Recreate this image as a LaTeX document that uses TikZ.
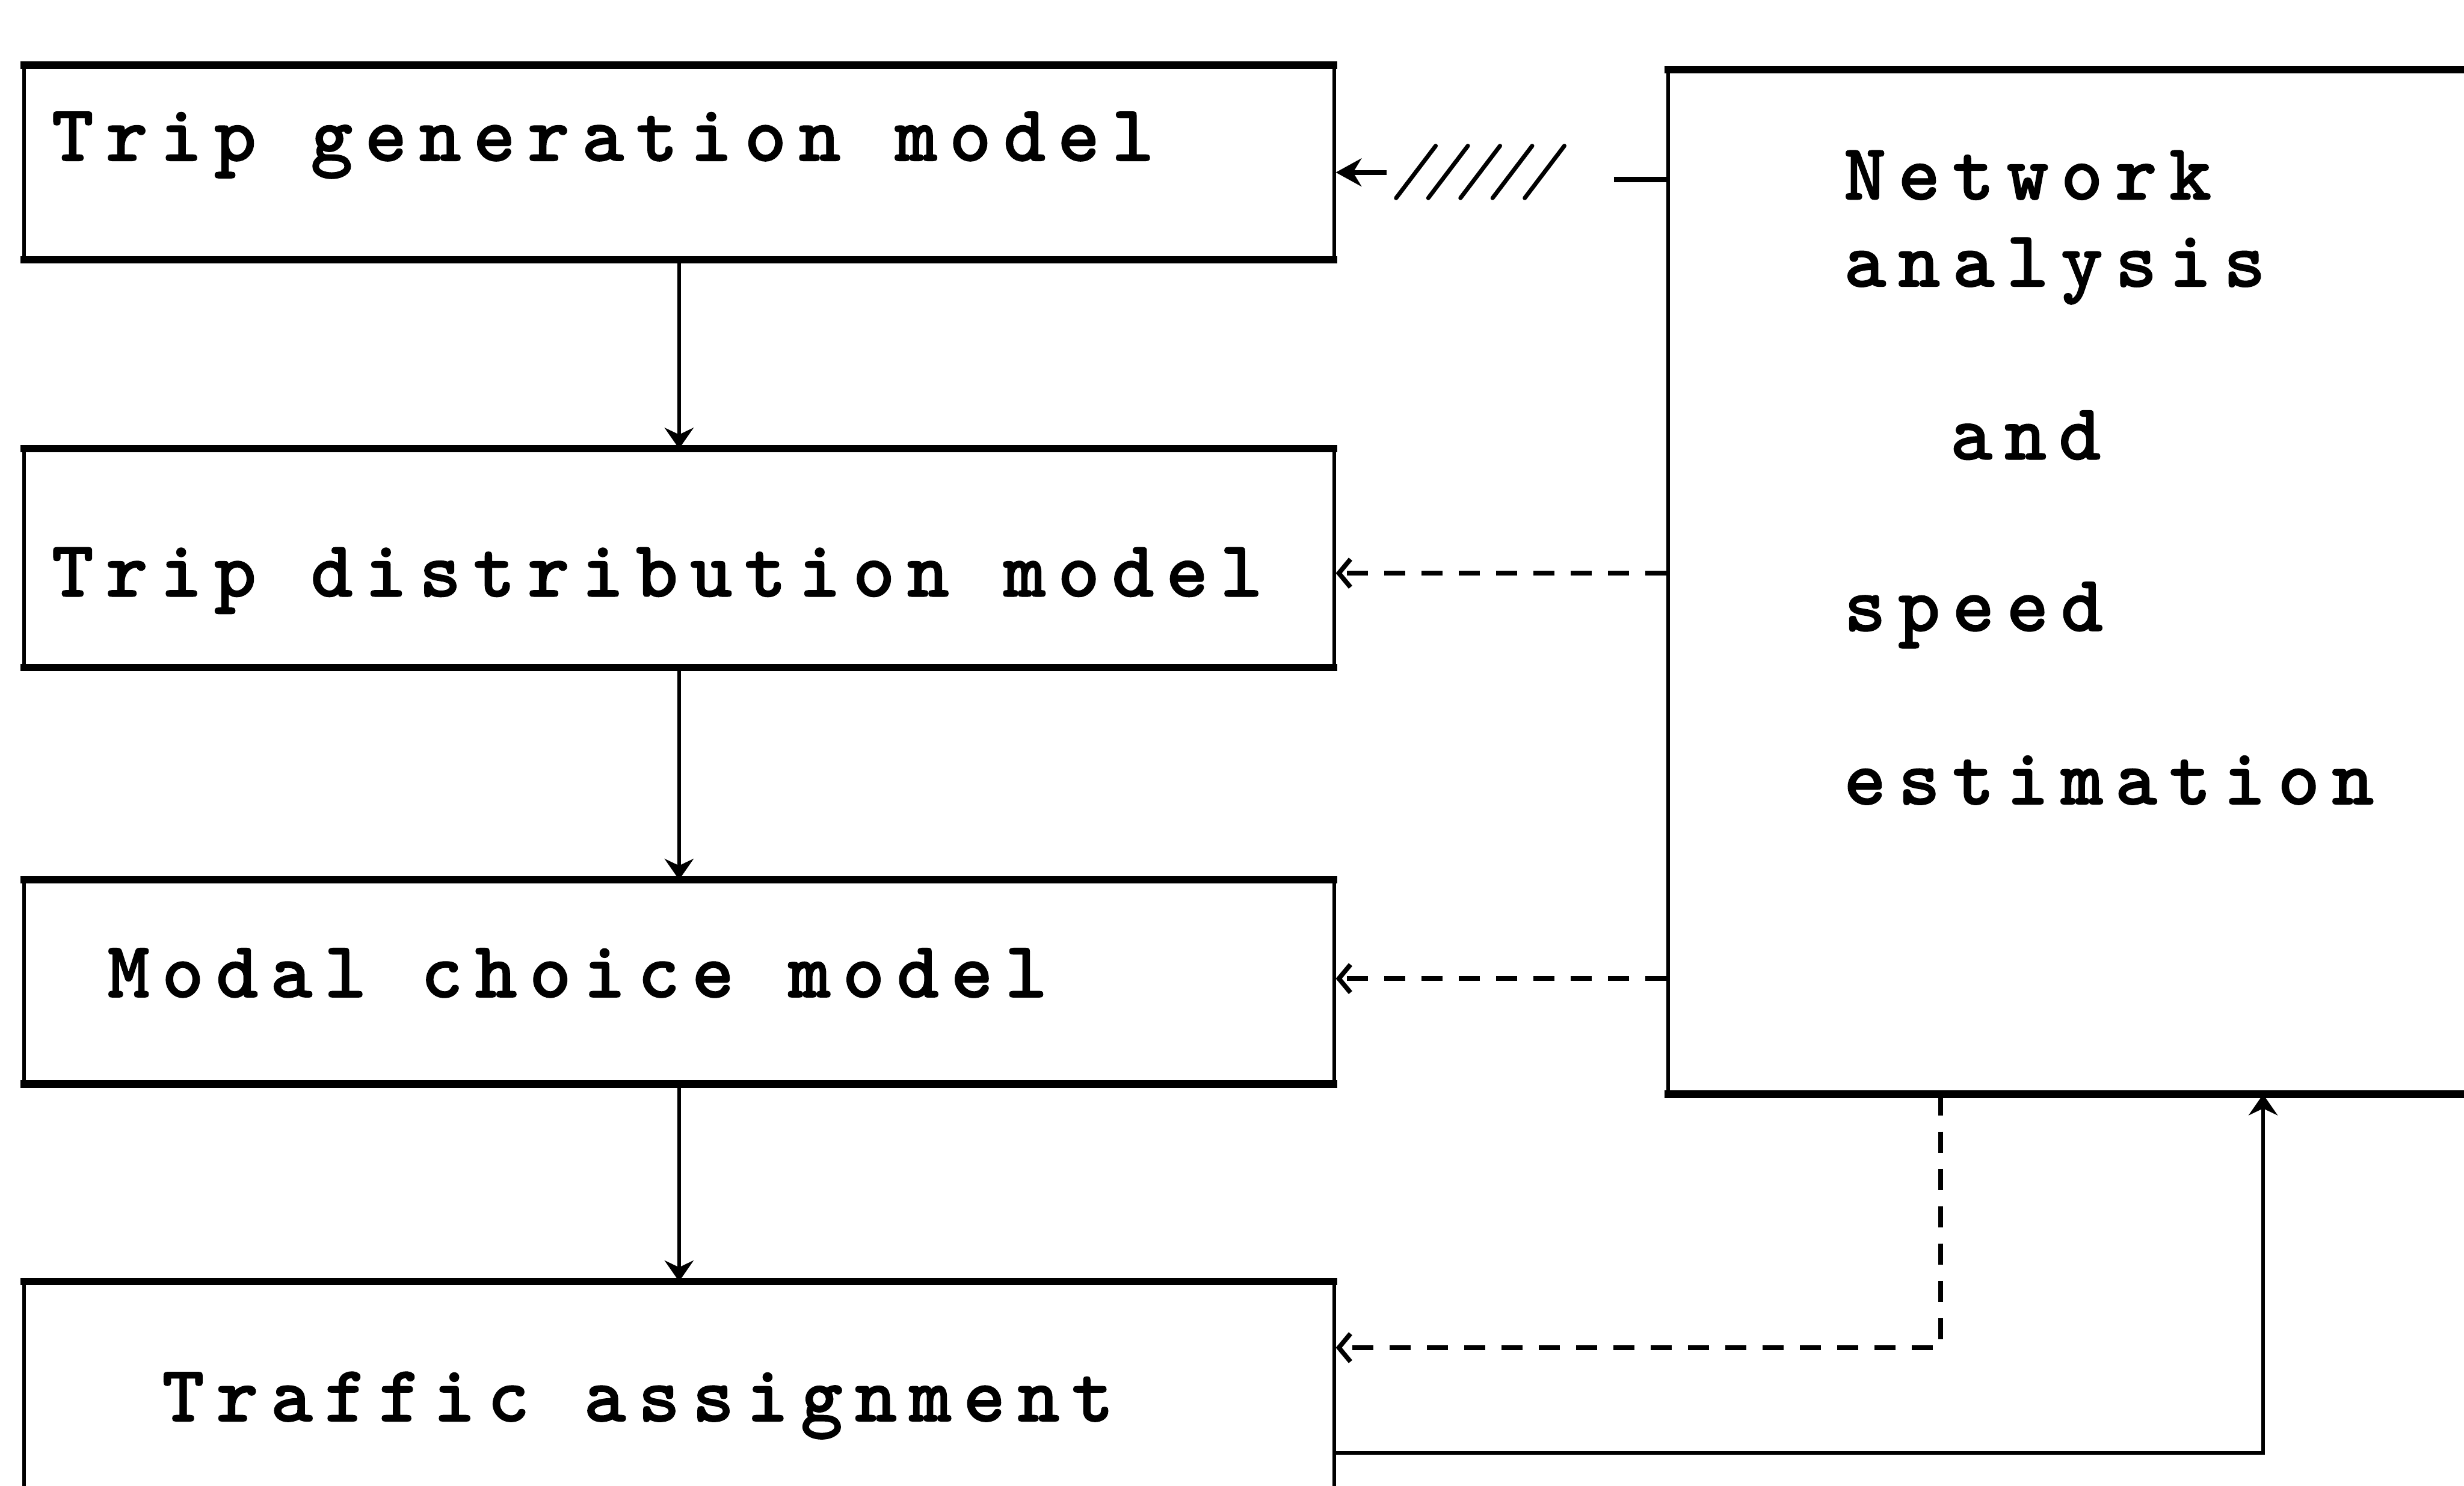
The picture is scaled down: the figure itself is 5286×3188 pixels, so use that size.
\documentclass[tikz,border=0pt]{standalone}
\usepackage{fontspec}
\newfontfamily\twfont{lmmonolt10-bold.otf}[LetterSpace=15,FakeBold=1]
\usetikzlibrary{arrows.meta}
\begin{document}
\begin{tikzpicture}[x=0.01cm,y=-0.01cm,
  box/.style={draw, line width=0.07cm, inner sep=0pt, anchor=north west},
  hedge/.style={line width=0.16cm, shorten <=-0.035cm, shorten >=-0.035cm},
  lbl/.style={inner sep=0pt, anchor=base west, font=\twfont\fontsize{49}{55}\selectfont},
  flow/.style={line width=0.08cm, -{Stealth[length=0.45cm,width=0.62cm]}},
  dflow/.style={line width=0.1cm, dash pattern=on 0.45cm off 0.35cm, -{Straight Barb[length=0.25cm,width=0.6cm]}},
  hatch/.style={line width=0.09cm, line cap=round},
]
\useasboundingbox (0,0) rectangle (5286,3188);
\clip (0,0) rectangle (5286,3188);

% boxes
\node[box, minimum width=28.09cm, minimum height=4.10cm] (b1) at (48,140) {};
\node[box, minimum width=28.09cm, minimum height=4.62cm] (b2) at (48,963) {};
\node[box, minimum width=28.09cm, minimum height=4.31cm] (b3) at (48,1888) {};
\node[box, minimum width=28.09cm, minimum height=4.50cm] (b4) at (48,2750) {};
\node[box, minimum width=20.00cm, minimum height=21.90cm] (net) at (3575,150) {};
\foreach \b in {b1,b2,b3,b4,net} {
  \draw[hedge] (\b.north west) -- (\b.north east);
  \draw[hedge] (\b.south west) -- (\b.south east);
}

% texts
\node[lbl] (t1) at (110,345) {Trip generation model};
\node[lbl] (t2) at (110,1280) {Trip distribution model};
\node[lbl] (t3) at (230,2140) {Modal choice model};
\node[lbl] (t4) at (347,3050) {Traffic assignment};
\node[lbl] (n1) at (3955,428) {Network};
\node[lbl] (n2) at (3955,615) {analysis};
\node[lbl] (n3) at (4183,986) {and};
\node[lbl] (n4) at (3955,1354) {speed};
\node[lbl] (n5) at (3955,1726) {estimation};

% main flow
\draw[flow] (b1.south) -- (b2.north);
\draw[flow] (b2.south) -- (b3.north);
\draw[flow] (b3.south) -- (b4.north);

% top interrupted link
\coordinate (ta) at (2975,370);
\draw[line width=0.1cm, -{Stealth[length=0.55cm,width=0.6cm]}] (ta) -- (b1.east |- ta);
\foreach \i in {0,...,4} \draw[hatch] (2995+69*\i,425) -- ++(85,-112);
\coordinate (st) at (3462,385);
\draw[line width=0.12cm] (st) -- (net.west |- st);

% dashed links
\coordinate (d2) at (0,1230);
\draw[dflow] (net.west |- d2) -- (b2.east |- d2);
\coordinate (d3) at (0,2100);
\draw[dflow] (net.west |- d3) -- (b3.east |- d3);
\coordinate (dc) at (4163,2892);
\draw[dflow] (dc |- net.south) -- (dc) -- (b4.east |- dc);

% feedback
\coordinate (fb) at (4855,3118);
\draw[flow] (b4.east |- fb) -- (fb) -- (fb |- net.south);
\end{tikzpicture}
\end{document}
